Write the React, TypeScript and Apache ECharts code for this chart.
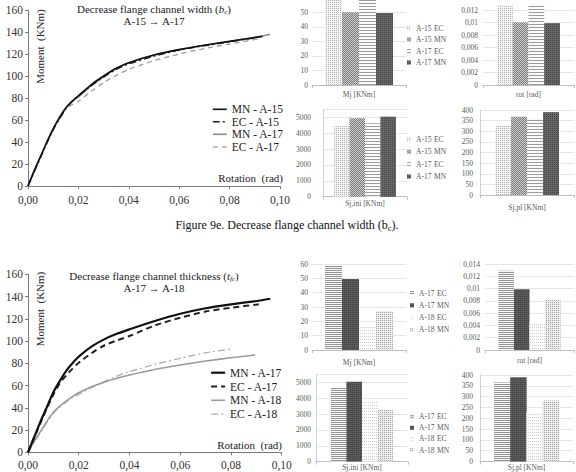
import React, { useEffect, useRef } from 'react';
import * as echarts from 'echarts';

const FONT = "'Liberation Serif', 'Times New Roman', serif";

// ---- Figure 9e: moment-rotation curves [rotation (rad), moment (kNm)]
const mnA15E = [[0,0],[0.0025,14],[0.005,27],[0.0075,40],[0.01,52],[0.0125,62],[0.015,71],[0.0175,77],[0.02,82],[0.025,92],[0.03,100],[0.035,107],[0.04,112],[0.05,119],[0.06,124],[0.07,128],[0.08,131.5],[0.093,136]];
const ecA15E = [[0,0],[0.0025,13],[0.005,26],[0.0075,39],[0.01,51],[0.0125,61],[0.015,70],[0.0175,77],[0.02,82],[0.025,91],[0.03,99],[0.035,106],[0.04,111],[0.05,118],[0.06,123.5],[0.07,127.5],[0.08,131],[0.091,135]];
const mnA17E = [[0,0],[0.0025,14],[0.005,27],[0.0075,40],[0.01,52],[0.0125,63],[0.015,71],[0.0175,77],[0.02,81],[0.025,91],[0.03,99.5],[0.035,106.5],[0.04,112],[0.05,119],[0.06,124],[0.07,128],[0.08,131.5],[0.09,135],[0.096,138]];
const ecA17E = [[0,0],[0.0025,14],[0.005,27],[0.0075,40],[0.01,52],[0.0125,62],[0.015,70],[0.0175,74],[0.02,77],[0.025,86],[0.03,94],[0.035,100.5],[0.04,106],[0.05,114],[0.06,120],[0.07,125],[0.08,129],[0.092,134]];

// ---- Figure 9f
const mnA17F = [[0,0],[0.0025,14],[0.005,28],[0.0075,41],[0.01,54],[0.0125,64],[0.015,73],[0.0175,80],[0.02,86],[0.025,95],[0.03,101.5],[0.035,106.5],[0.04,110.5],[0.05,118],[0.06,124.5],[0.07,129.5],[0.08,133],[0.09,136],[0.0955,138]];
const ecA17F = [[0,0],[0.0025,13.5],[0.005,27],[0.0075,40],[0.01,52],[0.0125,62],[0.015,69],[0.0175,75],[0.02,80.5],[0.025,89],[0.03,96],[0.035,100.5],[0.04,104.5],[0.05,114],[0.06,121],[0.07,126.5],[0.08,130],[0.091,133]];
const mnA18F = [[0,0],[0.0025,10],[0.005,19],[0.0075,28],[0.01,36],[0.0125,41.5],[0.015,46],[0.0175,50],[0.02,53.5],[0.025,59],[0.03,63],[0.035,66.5],[0.04,69.5],[0.05,74.5],[0.06,78.5],[0.07,82],[0.08,85],[0.0895,87.5]];
const ecA18F = [[0,0],[0.0025,9],[0.005,18],[0.0075,27],[0.01,35],[0.0125,40.5],[0.015,45],[0.0175,49],[0.02,52],[0.025,58],[0.03,63.5],[0.035,68.5],[0.04,72.5],[0.05,79],[0.06,84.5],[0.07,89.5],[0.0803,93]];

// ---- bar values
const barNamesE = ['A-15 EC', 'A-15 MN', 'A-17 EC', 'A-17 MN'];
const mjE = [59, 50, 59, 49.5];
const rotE = [0.0128, 0.01, 0.0128, 0.0099];
const sjIniE = [4450, 4950, 4630, 5040];
const sjPlE = [326, 368, 362, 390];

const barNamesF = ['A-17 EC', 'A-17 MN', 'A-18 EC', 'A-18 MN'];
const mjF = [59, 49.5, 16.5, 27.2];
const rotF = [0.0129, 0.0099, 0.0045, 0.0082];
const sjIniF = [4650, 5050, 3760, 3290];
const sjPlF = [365, 390, 228, 282];

const lineCats = ['MN - A-15', 'EC - A-15', 'MN - A-17', 'EC - A-17'];
const lineCatsF = ['MN - A-17', 'EC - A-17', 'MN - A-18', 'EC - A-18'];

const dots = (bg: string, fg: string, x: any = [1, 1], y: any = [1, 1]) => ({
  color: bg,
  decal: { symbol: 'rect', symbolSize: 1, color: fg, dashArrayX: x, dashArrayY: y, rotation: 0 },
});

const stylesE: Record<string, any> = {
  'A-15 EC': dots('#f4f4f4', '#b0b0b0', [1, 1], [1, 1]),
  'A-15 MN': dots('#cfcfcf', '#7a7a7a', [[1, 1], [0, 1, 1, 0]], [1, 0]),
  'A-17 EC': dots('#fafafa', '#9c9c9c', [1, 0], [1, 2]),
  'A-17 MN': dots('#666666', '#444444', [1, 1], [1, 1]),
};
const stylesF: Record<string, any> = {
  'A-17 EC': dots('#f8f8f8', '#939393', [1, 0], [1, 1]),
  'A-17 MN': dots('#5a5a5a', '#424242', [1, 1], [1, 1]),
  'A-18 EC': dots('#fcfcfc', '#cdcdcd', [1, 1], [1, 2]),
  'A-18 MN': dots('#ececec', '#a4a4a4', [1, 1], [1, 1]),
};

const rotFmt = (v: number) => (v === 0 ? '0' : String(+v.toFixed(3)).replace('.', ','));

const panels = [
  { cat: 'Mj [KNm]', names: barNamesE, values: mjE, styles: stylesE, left: 312, top: -2.2, width: 94, height: 87.2, max: 60, interval: 10, bars: 68, yMargin: 4, xMargin: 5, yLine: false, hideMax: true },
  { cat: 'rot [rad]', names: barNamesE, values: rotE, styles: stylesE, left: 483, top: -2.5, width: 91, height: 87.5, max: 0.014, interval: 0.002, bars: 63, yMargin: 5, xMargin: 5, yLine: false, hideMax: true, fmt: rotFmt },
  { cat: 'Sj,ini [KNm]', names: barNamesE, values: sjIniE, styles: stylesE, left: 323, top: 109.4, width: 84, height: 87.3, max: 5500, interval: 1000, bars: 62, yMargin: 12, xMargin: 3, yLine: true, cap: 5000 },
  { cat: 'Sj,pl [KNm]', names: barNamesE, values: sjPlE, styles: stylesE, left: 480, top: 110, width: 94, height: 85, max: 400, interval: 50, bars: 64, yMargin: 7, xMargin: 8, yLine: true },
  { cat: 'Mj [KNm]', names: barNamesF, values: mjF, styles: stylesF, left: 312, top: 264, width: 94, height: 86, max: 60, interval: 10, bars: 68, yMargin: 4, xMargin: 8, yLine: false },
  { cat: 'rot [rad]', names: barNamesF, values: rotF, styles: stylesF, left: 485, top: 264, width: 89, height: 86, max: 0.014, interval: 0.002, bars: 62, yMargin: 5, xMargin: 6, yLine: false, fmt: rotFmt },
  { cat: 'Sj,ini [KNm]', names: barNamesF, values: sjIniF, styles: stylesF, left: 316, top: 374.6, width: 92, height: 87, max: 5500, interval: 1000, bars: 62, yMargin: 5, xMargin: 1.5, yLine: true, cap: 5000 },
  { cat: 'Sj,pl [KNm]', names: barNamesF, values: sjPlF, styles: stylesF, left: 480, top: 375, width: 93, height: 86.5, max: 400, interval: 50, bars: 65, yMargin: 7, xMargin: 1.5, yLine: true },
];

const lineStylesE: Record<string, any> = {
  'MN - A-15': { color: '#111111', width: 1.6, type: 'solid' },
  'EC - A-15': { color: '#222222', width: 1.4, type: [7, 3, 2, 3] },
  'MN - A-17': { color: '#8a8a8a', width: 1.6, type: 'solid' },
  'EC - A-17': { color: '#9c9c9c', width: 1.3, type: [5, 4] },
};
const lineStylesF: Record<string, any> = {
  'MN - A-17': { color: '#111111', width: 2.2, type: 'solid' },
  'EC - A-17': { color: '#222222', width: 2, type: [6, 4] },
  'MN - A-18': { color: '#9a9a9a', width: 1.6, type: 'solid' },
  'EC - A-18': { color: '#ababab', width: 1.2, type: [7, 3, 2, 3] },
};

export default function App() {
  const ref = useRef<HTMLDivElement>(null);
  useEffect(() => {
    if (!ref.current) return;
    const chart = echarts.init(ref.current, undefined, { renderer: 'svg' });

    const grids: any[] = [
      { left: 28, top: 10, width: 252, height: 176, outerBoundsMode: 'none', containLabel: false },
      { left: 28, top: 274.3, width: 253.7, height: 178, outerBoundsMode: 'none', containLabel: false },
    ];
    const xAxes: any[] = [];
    const yAxes: any[] = [];
    const series: any[] = [];

    [8, 7].forEach((xm, g) => {
      xAxes.push({
        type: 'value', gridIndex: g, min: 0, max: 0.1, interval: 0.02,
        axisLine: { show: true, lineStyle: { color: '#7a7a7a', width: 1 } },
        axisTick: { show: true, length: 3, lineStyle: { color: '#7a7a7a' } },
        splitLine: { show: false },
        axisLabel: { formatter: (v: number) => v.toFixed(2).replace('.', ','), fontSize: 11.5, color: '#333', fontFamily: FONT, margin: xm },
      });
      yAxes.push({
        type: 'value', gridIndex: g, min: 0, max: 160, interval: 20,
        axisLine: { show: true, lineStyle: { color: '#7a7a7a', width: 1 } },
        axisTick: { show: true, length: 3, lineStyle: { color: '#7a7a7a' } },
        splitLine: { show: false },
        axisLabel: { fontSize: 11.5, color: '#333', fontFamily: FONT, margin: 5 },
      });
    });

    const addLine = (name: string, data: number[][], idx: number, style: any, z: number) => {
      series.push({
        type: 'line', name, data, xAxisIndex: idx, yAxisIndex: idx, symbol: 'none', showSymbol: false,
        smooth: 0.25, lineStyle: style, itemStyle: { color: style.color }, z, silent: true,
      });
    };
    addLine('MN - A-17', mnA17E, 0, lineStylesE['MN - A-17'], 2);
    addLine('EC - A-17', ecA17E, 0, lineStylesE['EC - A-17'], 3);
    addLine('EC - A-15', ecA15E, 0, lineStylesE['EC - A-15'], 4);
    addLine('MN - A-15', mnA15E, 0, lineStylesE['MN - A-15'], 5);
    addLine('EC - A-18', ecA18F, 1, lineStylesF['EC - A-18'], 2);
    addLine('MN - A-18', mnA18F, 1, lineStylesF['MN - A-18'], 3);
    addLine('EC - A-17', ecA17F, 1, lineStylesF['EC - A-17'], 4);
    addLine('MN - A-17', mnA17F, 1, lineStylesF['MN - A-17'], 5);

    panels.forEach((p, i) => {
      const k = i + 2;
      grids.push({ left: p.left, top: p.top, width: p.width, height: p.height, outerBoundsMode: 'none', containLabel: false });
      xAxes.push({
        type: 'category', gridIndex: k, data: [p.cat],
        axisLine: { show: true, lineStyle: { color: '#bfbfbf', width: 1 } },
        axisTick: { show: true, length: 3, lineStyle: { color: '#bfbfbf' } },
        axisLabel: { fontSize: 7.5, color: '#595959', fontFamily: FONT, margin: p.xMargin },
        splitLine: { show: false },
      });
      yAxes.push({
        type: 'value', gridIndex: k, min: 0, max: p.max, interval: p.interval,
        axisLine: { show: p.yLine, lineStyle: { color: '#d0d0d0', width: 1 } },
        axisTick: { show: false },
        splitLine: { show: true, lineStyle: { color: '#e0e0e0', width: 0.8 } },
        axisLabel: {
          fontSize: 7.5, color: '#595959', fontFamily: FONT, margin: p.yMargin,
          showMaxLabel: p.hideMax ? false : undefined,
          formatter: (v: number) => {
            if (p.cap !== undefined && v > p.cap) return '';
            return p.fmt ? p.fmt(v) : String(v);
          },
        },
      });
      const gap = Math.round(((p.width - p.bars) / p.width) * 1000) / 10;
      p.names.forEach((n, j) => {
        series.push({
          type: 'bar', name: n, data: [p.values[j]], xAxisIndex: k, yAxisIndex: k,
          barGap: '0%', barCategoryGap: gap + '%', itemStyle: p.styles[n], silent: true,
        });
      });
    });

    const lineLegend = (names: string[], styles: Record<string, any>, left: number, top: number, gap: number) => ({
      orient: 'vertical', left, top, padding: 0, itemGap: gap, itemWidth: 14, itemHeight: 10,
      selectedMode: false,
      textStyle: { fontFamily: FONT, fontSize: 11.5, color: '#222', lineHeight: 12 },
      data: names.map((n) => ({
        name: n,
        lineStyle: { ...styles[n] },
        itemStyle: { color: 'rgba(0,0,0,0)', opacity: 0, borderWidth: 0 },
      })),
    });
    const barLegend = (names: string[], styles: Record<string, any>, left: number, top: number, gap: number) => ({
      orient: 'vertical', left, top, padding: 0, itemGap: gap, itemWidth: 4, itemHeight: 4,
      selectedMode: false, icon: 'rect',
      formatter: (n: string) => {
        const parts = n.split(' ');
        return `{a|${parts[0]}}{b|${parts[1]}}`;
      },
      textStyle: {
        fontFamily: FONT, fontSize: 7.5, color: '#595959', lineHeight: 9,
        rich: {
          a: { width: 18, fontFamily: FONT, fontSize: 7.5, color: '#595959' },
          b: { fontFamily: FONT, fontSize: 7.5, color: '#595959' },
        },
      },
      data: names.map((n) => ({ name: n, itemStyle: { ...styles[n] } })),
    });

    const rich = {
      n: { fontFamily: FONT, fontSize: 11, fill: '#222', lineHeight: 12 },
      i: { fontFamily: FONT, fontSize: 11, fontStyle: 'italic', fill: '#222', lineHeight: 12 },
      s: { fontFamily: FONT, fontSize: 7, fontStyle: 'italic', fill: '#222', lineHeight: 8, verticalAlign: 'bottom' },
    };
    const capRich = {
      n: { fontFamily: FONT, fontSize: 12, fill: '#111', lineHeight: 14 },
      s: { fontFamily: FONT, fontSize: 8, fill: '#111', lineHeight: 9, verticalAlign: 'bottom' },
    };
    const txt = (x: number, y: number, text: string, extra: any = {}) => ({
      type: 'text', x, y, silent: true,
      style: { text, fontFamily: FONT, fontSize: 11, fill: '#222', align: 'center', verticalAlign: 'middle', ...extra },
    });

    chart.setOption({
      animation: false,
      backgroundColor: '#ffffff',
      grid: grids,
      xAxis: xAxes,
      yAxis: yAxes,
      series,
      legend: [
        lineLegend(lineCats, lineStylesE, 212, 103.3, 0.5),
        lineLegend(lineCatsF, lineStylesF, 210, 366.7, 1.8),
        barLegend(barNamesE, stylesE, 407, 23.5, 2.5),
        barLegend(barNamesE, stylesE, 407, 134.8, 3.4),
        barLegend(barNamesF, stylesF, 410, 288.5, 3.3),
        barLegend(barNamesF, stylesF, 410, 412.2, 2.1),
      ],
      graphic: [
        txt(154, 15, '{n|Decrease flange channel width (}{i|b}{s|c}{n|)}\n{n|A-15 → A-17}', { rich }),
        txt(154, 282, '{n|Decrease flange channel thickness (}{i|t}{s|fc}{n|)}\n{n|A-17 → A-18}', { rich }),
        { ...txt(39.5, 46.5, 'Moment  (KNm)'), rotation: Math.PI / 2 },
        { ...txt(39.5, 309, 'Moment  (KNm)'), rotation: Math.PI / 2 },
        txt(283, 178, 'Rotation  (rad)', { align: 'right' }),
        txt(282, 445, 'Rotation  (rad)', { align: 'right' }),
        txt(287, 225, '{n|Figure 9e. Decrease flange channel width (b}{s|c}{n|).}', { rich: capRich, fontSize: 12 }),
      ],
    });
    return () => chart.dispose();
  }, []);
  return (
    <div
      ref={ref}
      style={{ position: 'fixed', left: 0, top: 0, width: 576, height: 472, background: '#fff' }}
    />
  );
}
